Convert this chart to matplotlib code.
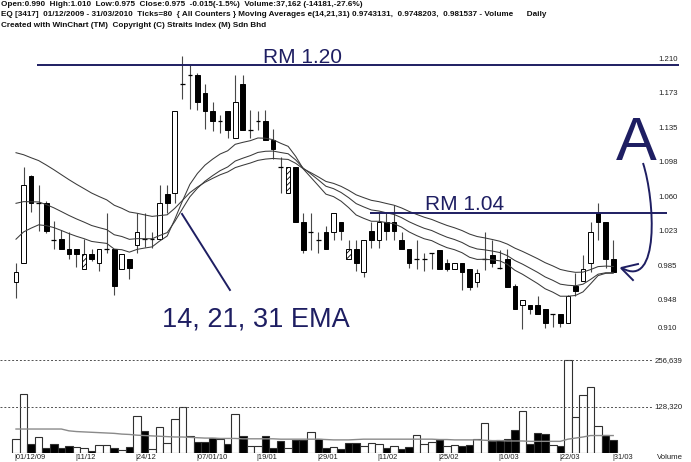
import matplotlib
matplotlib.use("Agg")
import matplotlib.pyplot as plt
from matplotlib.patches import Rectangle, PathPatch
from matplotlib.path import Path
from matplotlib.transforms import blended_transform_factory

# ---- daily OHLC for EQ [3417], 01/12/2009 - 31/03/2010 (80 sessions) ----
opens = [0.965, 0.985, 1.080, 1.050, 1.050, 1.010, 1.011, 1.000, 1.000, 0.979,
         0.995, 0.985, 1.000, 1.000, 0.979, 0.990, 1.005, 1.011, 1.011, 1.011,
         1.060, 1.061, 1.180, 1.190, 1.190, 1.170, 1.150, 1.140, 1.150, 1.121,
         1.180, 1.130, 1.140, 1.140, 1.119, 1.090, 1.061, 1.090, 1.030, 1.019,
         1.010, 1.019, 1.019, 1.030, 0.989, 1.000, 0.975, 1.020, 1.010, 1.030,
         1.030, 1.010, 1.000, 0.989, 0.989, 0.996, 0.999, 0.985, 0.979, 0.985,
         0.979, 0.965, 0.990, 0.994, 0.980, 0.989, 0.960, 0.940, 0.939, 0.939,
         0.935, 0.930, 0.930, 0.920, 0.960, 0.966, 0.985, 1.039, 1.030, 0.990]
highs = [0.985, 1.090, 1.081, 1.070, 1.052, 1.031, 1.021, 1.019, 1.000, 1.011,
         1.000, 1.000, 1.040, 1.000, 0.995, 0.990, 1.039, 1.040, 1.019, 1.070,
         1.070, 1.150, 1.210, 1.200, 1.192, 1.180, 1.160, 1.146, 1.150, 1.190,
         1.190, 1.151, 1.150, 1.151, 1.131, 1.100, 1.090, 1.090, 1.039, 1.039,
         1.019, 1.025, 1.040, 1.030, 1.010, 1.010, 1.010, 1.030, 1.040, 1.041,
         1.048, 1.019, 1.000, 1.010, 0.996, 0.996, 0.999, 0.990, 0.985, 0.985,
         0.979, 0.979, 1.019, 1.010, 0.999, 1.000, 0.962, 0.945, 0.939, 0.949,
         0.935, 0.930, 0.930, 0.950, 0.974, 0.994, 1.030, 1.050, 1.030, 1.010]
lows = [0.947, 0.985, 1.041, 1.020, 1.018, 1.000, 1.000, 0.990, 0.981, 0.979,
        0.987, 0.976, 0.996, 0.950, 0.979, 0.968, 0.996, 1.003, 1.001, 1.011,
        1.040, 1.050, 1.163, 1.152, 1.151, 1.131, 1.129, 1.126, 1.121, 1.121,
        1.130, 1.121, 1.130, 1.119, 1.098, 1.061, 1.061, 1.030, 0.996, 0.999,
        0.996, 1.000, 1.010, 1.010, 0.989, 0.976, 0.970, 1.001, 1.001, 1.010,
        1.010, 1.000, 0.980, 0.979, 0.976, 0.979, 0.979, 0.976, 0.979, 0.956,
        0.956, 0.959, 0.977, 0.981, 0.979, 0.959, 0.935, 0.913, 0.930, 0.930,
        0.915, 0.916, 0.916, 0.920, 0.949, 0.966, 0.975, 1.010, 0.980, 0.975]
closes = [0.975, 1.070, 1.050, 1.050, 1.020, 1.010, 1.000, 0.995, 0.995, 0.995,
          0.989, 1.000, 1.000, 0.960, 0.995, 0.980, 1.019, 1.011, 1.011, 1.050,
          1.050, 1.150, 1.180, 1.190, 1.160, 1.150, 1.140, 1.140, 1.130, 1.160,
          1.130, 1.130, 1.140, 1.119, 1.109, 1.090, 1.090, 1.030, 0.999, 1.019,
          1.010, 1.000, 1.040, 1.020, 1.000, 0.985, 1.010, 1.010, 1.030, 1.020,
          1.020, 1.000, 0.985, 0.989, 0.989, 0.996, 0.979, 0.979, 0.985, 0.975,
          0.959, 0.974, 0.990, 0.985, 0.980, 0.959, 0.935, 0.945, 0.935, 0.930,
          0.920, 0.930, 0.920, 0.949, 0.955, 0.979, 1.019, 1.030, 0.990, 0.975]
volumes = [40000, 165000, 25000, 45000, 14000, 25000, 16000, 20000, 17000, 14000,
           7000, 22000, 22000, 14000, 9000, 18000, 103000, 61000, 11000, 73000,
           28000, 96000, 128000, 47000, 31000, 31000, 42000, 39000, 25000, 109000,
           47000, 21000, 20000, 47000, 16000, 33000, 16000, 37000, 36000, 59000,
           39000, 14000, 18000, 12000, 29000, 29000, 21000, 29000, 27000, 14000,
           20000, 13000, 18000, 51000, 25000, 32000, 36000, 21000, 22000, 21000,
           23000, 39000, 84000, 33000, 36000, 39000, 65000, 116000, 27000, 56000,
           52000, 22000, 20000, 256639, 100000, 162000, 184000, 75000, 51343, 37162]
# volume moving average (grey line)
vol_avg = [67000, 67000, 67000, 67000, 67000, 67000, 67000, 62000, 60000, 59000,
           58000, 57000, 56000, 55000, 53000, 52000, 50000, 49000, 48000, 47000,
           46000, 45000, 45000, 44000, 43000, 42000, 42000, 41000, 41000, 41000,
           40000, 40000, 40000, 40000, 40000, 39000, 39000, 39000, 39000, 39000,
           39000, 38000, 37000, 37000, 37000, 38000, 39000, 39000, 39000, 39000,
           39000, 39000, 39000, 39000, 39000, 39000, 38000, 38000, 37000, 37000,
           37000, 37000, 36000, 35000, 35000, 34000, 34000, 34000, 33000, 33000,
           33000, 33000, 33000, 39000, 42000, 45000, 49000, 49000, 49000, 49000]

ema_periods = [14, 21, 31]
ema_start = [1.011, 1.050, 1.105]

date_idx = [0, 8, 16, 24, 32, 40, 48, 56, 64, 72, 79]
date_labels = ["01/12/09", "11/12", "24/12", "07/01/10", "19/01", "29/01",
               "11/02", "25/02", "10/03", "22/03", "31/03"]
price_ticks = [1.210, 1.173, 1.135, 1.098, 1.060, 1.023, 0.985, 0.948, 0.910]
vol_ticks = [128320, 256639]
vol_tick_labels = ["128,320", "256,639"]

NAVY = "#1e1e62"
FONT = ["Liberation Sans", "DejaVu Sans"]
plt.rcParams["hatch.linewidth"] = 0.6

fig = plt.figure(figsize=(6.91, 4.62), dpi=100)
fig.patch.set_facecolor("white")
ax = fig.add_axes([0, 0.2424, 1, 0.6710])
axv = fig.add_axes([0, 0.01883, 1, 0.2236])
for a in (ax, axv):
    a.set_axis_off()
    a.set_xlim(-2.116, 89.29)
ax.set_ylim(0.89054, 1.2275)
axv.set_ylim(0, 285067)

n = len(closes)
idx = list(range(n))
bw = 0.62

# ---- candlesticks ----
for i in idx:
    o, h, l, c = opens[i], highs[i], lows[i], closes[i]
    ax.vlines(i, l, h, color="#484848", lw=0.8, zorder=2)
    prev = closes[i - 1] if i > 0 else None
    if c > o:
        hatched = prev is not None and c <= prev
        ax.add_patch(Rectangle((i - bw / 2, o), bw, c - o, facecolor="white",
                               edgecolor="black", lw=0.7,
                               hatch="//////" if hatched else None, zorder=3))
    elif c < o:
        ax.add_patch(Rectangle((i - bw / 2, c), bw, o - c, facecolor="black",
                               edgecolor="black", lw=0.7, zorder=3))
    else:
        ax.hlines(c, i - bw / 2, i + bw / 2, color="black", lw=0.9, zorder=3)

# ---- exponential moving averages of the close ----
for period, start in zip(ema_periods, ema_start):
    k = 2.0 / (period + 1)
    vals = [start]
    for c in closes[1:]:
        vals.append(vals[-1] + k * (c - vals[-1]))
    ax.plot(idx, vals, color="#3a3a3a", lw=0.75, zorder=4)

# ---- price scale labels ----
for p in price_ticks:
    ax.text(84.92, p, f"{p:.3f}", fontsize=5.6, family=FONT, color="#202020",
            ha="left", va="bottom" if p == price_ticks[-1] else "top")

# ---- annotations ----
ax.hlines(1.20, 2.78, 87.7, color=NAVY, lw=1.4, zorder=5)
ax.text(32.7, 1.2025, "RM 1.20", fontsize=15, family=FONT, color=NAVY,
        ha="left", va="baseline")
ax.hlines(1.04, 46.8, 86.1, color=NAVY, lw=1.4, zorder=5)
ax.text(54.1, 1.0427, "RM 1.04", fontsize=15, family=FONT, color=NAVY,
        ha="left", va="baseline")
ax.plot([21.96, 28.3], [1.0384, 0.9558], color=NAVY, lw=1.4, zorder=5)
ax.text(19.3, 0.9166, "14, 21, 31 EMA", fontsize=19.5, family=FONT,
        color=NAVY, ha="left", va="baseline")
ax.text(82.1, 1.0971, "A", fontsize=44, family=FONT, color=NAVY,
        ha="center", va="baseline")
curve = Path([(82.94, 1.0938), (84.52, 1.0536), (85.19, 0.9558), (80.16, 0.9797)],
             [Path.MOVETO, Path.CURVE4, Path.CURVE4, Path.CURVE4])
ax.add_patch(PathPatch(curve, facecolor="none", edgecolor=NAVY, lw=1.4, zorder=5))
ax.plot([82.28, 80.03, 81.61], [0.9840, 0.9797, 0.9666], color=NAVY, lw=1.4,
        zorder=5, solid_joinstyle="miter")

# ---- volume ----
vol_colors = ["white"] + ["black" if closes[i] < closes[i - 1] else "white"
                          for i in idx[1:]]
axv.bar(idx, volumes, width=1.0, color=vol_colors, edgecolor="#303030",
        lw=0.8, zorder=2)
axv.plot(idx, vol_avg, color="#8a8a8a", lw=1.0, zorder=3)
for v, lab in zip(vol_ticks, vol_tick_labels):
    axv.hlines(v, -2.116, 84.26, color="#505050", lw=0.7, linestyles=(0, (2, 2)))
    axv.text(84.5, v, lab, fontsize=5.6, family=FONT, color="#202020",
             ha="left", va="center")

tr = blended_transform_factory(axv.transData, fig.transFigure)
for i, lab in zip(date_idx, date_labels):
    axv.text(i - 0.15, 0.009, "|" + lab, transform=tr, fontsize=5.4,
             family=FONT, color="#202020", ha="left", va="center")
axv.text(84.8, 0.009, "Volume", transform=tr, fontsize=5.6, family=FONT,
         color="#202020", ha="left", va="center")

# ---- header ----
header = [
    "Open:0.990  High:1.010  Low:0.975  Close:0.975  -0.015(-1.5%)  Volume:37,162 (-14181,-27.6%)",
    "EQ [3417]  01/12/2009 - 31/03/2010  Ticks=80  { All Counters } Moving Averages e(14,21,31) 0.9743131,  0.9748203,  0.981537 - Volume      Daily",
    "Created with WinChart (TM)  Copyright (C) Straits Index (M) Sdn Bhd",
]
for row, line in enumerate(header):
    fig.text(0.002, 1 - (4.3 + 10.7 * row) / 462, line, fontsize=5.85,
             family=FONT, fontweight="bold", color="#101010",
             ha="left", va="center")

fig.savefig("out.png", dpi=100, facecolor="white")
